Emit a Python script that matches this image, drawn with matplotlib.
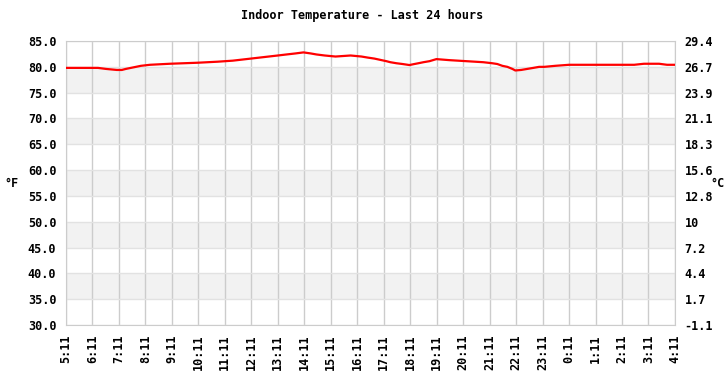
import numpy as np
import matplotlib
matplotlib.use("Agg")
import matplotlib.pyplot as plt

plt.rcParams['font.family'] = 'DejaVu Sans Mono'
plt.rcParams['font.weight'] = 'bold'

# hours after 5:11 and indoor temperature (F)
hours = [0, 1.21, 1.51, 1.92, 2.11, 2.26, 2.45, 2.64, 2.83, 3.17, 3.92, 4.98,
         5.73, 6.30, 6.64, 6.98, 7.32, 7.66, 8.00, 8.33, 8.67, 8.97, 9.24, 9.46,
         9.77, 10.18, 10.75, 11.16, 11.39, 11.65, 11.92, 12.10, 12.25, 12.48,
         12.71, 12.97, 13.16, 13.31, 13.50, 13.73, 13.99, 14.48, 15.12, 15.76,
         16.10, 16.29, 16.48, 16.67, 16.86, 16.97, 17.19, 17.42, 17.65, 17.87,
         18.06, 18.48, 19.00, 21.46, 21.83, 22.40, 22.70, 23.0]
temps = [79.8, 79.8, 79.6, 79.4, 79.4, 79.6, 79.8, 80.0, 80.2, 80.4, 80.6, 80.8,
         81.0, 81.2, 81.4, 81.6, 81.8, 82.0, 82.2, 82.4, 82.6, 82.8, 82.6, 82.4,
         82.2, 82.0, 82.2, 82.0, 81.8, 81.6, 81.3, 81.1, 80.9, 80.7,
         80.55, 80.35, 80.55, 80.7, 80.9, 81.1, 81.5, 81.3, 81.1, 80.9,
         80.7, 80.55, 80.2, 80.0, 79.6, 79.3, 79.4, 79.6, 79.8, 80.0,
         80.0, 80.2, 80.4, 80.4, 80.6, 80.6, 80.4, 80.4]

xlabels = ["5:11", "6:11", "7:11", "8:11", "9:11", "10:11", "11:11", "12:11",
           "13:11", "14:11", "15:11", "16:11", "17:11", "18:11", "19:11", "20:11",
           "21:11", "22:11", "23:11", "0:11", "1:11", "2:11", "3:11", "4:11"]
fticks = [30, 35, 40, 45, 50, 55, 60, 65, 70, 75, 80, 85]
clabels = ["-1.1", "1.7", "4.4", "7.2", "10", "12.8", "15.6", "18.3", "21.1",
           "23.9", "26.7", "29.4"]

fig = plt.figure(figsize=(7.25, 3.8), dpi=100)
ax = fig.add_axes([0.091, 0.1447, 0.84, 0.7473])

# alternating bands
for lo in [35, 45, 55, 65, 75]:
    ax.axhspan(lo, lo + 5, color='#f2f2f2', zorder=0, lw=0)

ax.set_xlim(0, 23)
ax.set_ylim(30, 85)
ax.set_xticks(range(24))
ax.set_xticklabels(xlabels, rotation=90, fontsize=8.5, fontweight='bold')
ax.set_yticks(fticks)
ax.set_yticklabels(["%.1f" % v for v in fticks], fontsize=8.5, fontweight='bold')
ax.tick_params(length=0, pad=7)
ax.grid(axis='x', color='#cccccc', lw=1)
ax.grid(axis='y', color='#e2e2e2', lw=1)
ax.set_axisbelow(True)
for s in ax.spines.values():
    s.set_color('#cccccc')

ax.plot(hours, temps, color='#ff0000', lw=1.6, zorder=3)

ax.set_ylabel("°F", rotation=0, fontsize=8.5, fontweight='bold', labelpad=12, va='center')

ax2 = ax.twinx()
ax2.set_ylim(30, 85)
ax2.set_yticks(fticks)
ax2.set_yticklabels(clabels, fontsize=8.5, fontweight='bold')
ax2.tick_params(length=0, pad=7)
for s in ax2.spines.values():
    s.set_visible(False)

fig.text(0.999, 0.518, "°C", ha='right', va='center', fontsize=8.5, fontweight='bold')

fig.suptitle("Indoor Temperature - Last 24 hours", fontsize=8.5, fontweight='bold', y=0.975)

fig.savefig("out.png", dpi=100)
